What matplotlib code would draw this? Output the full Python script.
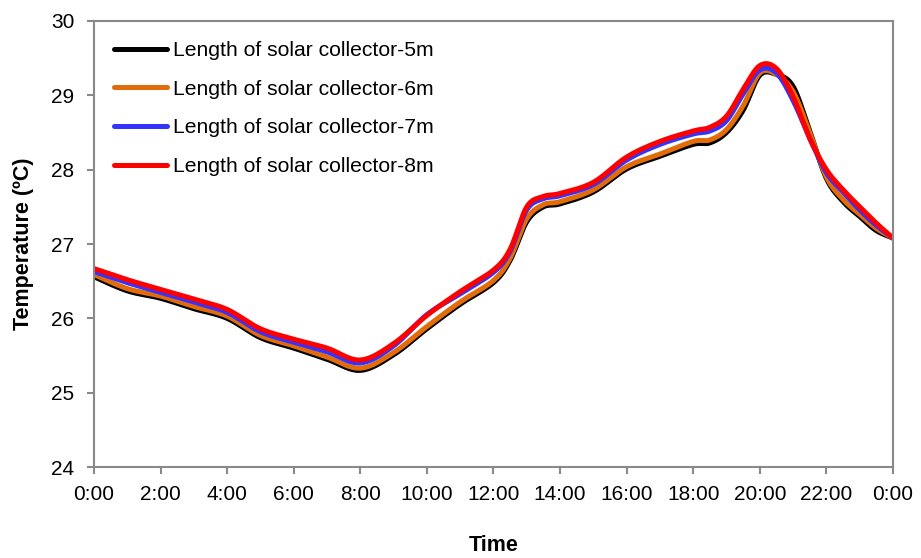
import numpy as np
import matplotlib
matplotlib.use('Agg')
import matplotlib.pyplot as plt

# Time of day (h)
hours = [0, 1, 2, 3, 4, 5, 6, 7, 8, 9, 10, 11, 12, 12.5, 13, 13.5, 14, 15, 16,
         17, 18, 18.5, 19, 19.5, 20, 20.5, 21, 21.5, 22, 22.5, 23, 23.5, 24]

# Temperature (C) for each collector length
t_5m = [26.56, 26.37, 26.27, 26.13, 26.00, 25.74, 25.60, 25.45, 25.30, 25.51,
        25.86, 26.19, 26.48, 26.78, 27.30, 27.50, 27.54, 27.70, 28.01, 28.18,
        28.34, 28.36, 28.50, 28.80, 29.27, 29.28, 29.12, 28.52, 27.88, 27.57,
        27.37, 27.18, 27.08]
t_6m = [26.59, 26.40, 26.30, 26.16, 26.03, 25.77, 25.63, 25.48, 25.33, 25.54,
        25.89, 26.22, 26.51, 26.81, 27.34, 27.53, 27.57, 27.73, 28.04, 28.21,
        28.38, 28.40, 28.54, 28.86, 29.30, 29.28, 29.05, 28.50, 27.90, 27.60,
        27.40, 27.21, 27.08]
t_7m = [26.63, 26.48, 26.35, 26.22, 26.08, 25.82, 25.68, 25.55, 25.40, 25.63,
        26.05, 26.33, 26.62, 26.90, 27.46, 27.61, 27.65, 27.80, 28.13, 28.34,
        28.48, 28.52, 28.66, 29.02, 29.34, 29.30, 28.93, 28.42, 27.96, 27.70,
        27.46, 27.25, 27.08]
t_8m = [26.67, 26.52, 26.39, 26.26, 26.12, 25.86, 25.72, 25.60, 25.44, 25.66,
        26.04, 26.36, 26.65, 26.93, 27.50, 27.64, 27.68, 27.83, 28.17, 28.38,
        28.52, 28.57, 28.72, 29.08, 29.40, 29.36, 28.98, 28.42, 28.00, 27.73,
        27.50, 27.28, 27.08]

labels = ['Length of solar collector-5m', 'Length of solar collector-6m',
          'Length of solar collector-7m', 'Length of solar collector-8m']
colors = ['#000000', '#E36C0A', '#3333FF', '#FF0000']
xticklabels = ['0:00', '2:00', '4:00', '6:00', '8:00', '10:00', '12:00',
               '14:00', '16:00', '18:00', '20:00', '22:00', '0:00']


def smooth(x, y, n=20):
    # Catmull-Rom smoothing, like a spreadsheet "smoothed line"
    x = np.asarray(x, float)
    y = np.asarray(y, float)
    px = np.concatenate([[x[0]], x, [x[-1]]])
    py = np.concatenate([[y[0]], y, [y[-1]]])
    xs, ys = [], []
    t = np.linspace(0, 1, n, endpoint=False)
    for i in range(1, len(px) - 2):
        p0, p1, p2, p3 = px[i-1], px[i], px[i+1], px[i+2]
        q0, q1, q2, q3 = py[i-1], py[i], py[i+1], py[i+2]
        # bezier control points
        c1x, c1y = p1 + (p2 - p0) / 6, q1 + (q2 - q0) / 6
        c2x, c2y = p2 - (p3 - p1) / 6, q2 - (q3 - q1) / 6
        b0 = (1 - t)**3
        b1 = 3 * (1 - t)**2 * t
        b2 = 3 * (1 - t) * t**2
        b3 = t**3
        xs.append(b0*p1 + b1*c1x + b2*c2x + b3*p2)
        ys.append(b0*q1 + b1*c1y + b2*c2y + b3*q2)
    xs.append([x[-1]])
    ys.append([y[-1]])
    return np.concatenate(xs), np.concatenate(ys)


plt.rcParams['font.family'] = ['Liberation Sans', 'DejaVu Sans']

fig = plt.figure(figsize=(9.21, 5.58), dpi=100)
ax = fig.add_axes([0.102, 0.163, 0.8676, 0.7994])

for series, lab, col in zip([t_5m, t_6m, t_7m, t_8m], labels, colors):
    sx, sy = smooth(hours, series)
    ax.plot(sx, sy, color=col, lw=3.6, label=lab,
            solid_capstyle='round', solid_joinstyle='round')

ax.set_xlim(0, 24)
ax.set_ylim(24, 30)
ax.set_xticks(np.arange(0, 25, 2))
ax.set_xticklabels(xticklabels)
ax.set_yticks(np.arange(24, 31, 1))

for s in ax.spines.values():
    s.set_color('#898989')
    s.set_linewidth(1.5)
ax.tick_params(axis='both', color='#898989', width=1.5, length=5,
               labelsize=15, direction='out')
ax.tick_params(axis='y', pad=9)
ax.tick_params(axis='x', pad=8)

ax.set_xlabel('Time', fontsize=15.5, fontweight='bold', labelpad=22)
ax.set_ylabel('Temperature (ºC)', fontsize=15.5, fontweight='bold', labelpad=12)

ax.legend(loc='upper left', frameon=False, fontsize=15.2, handlelength=2.5,
          handletextpad=0.3, labelspacing=0.93, borderaxespad=0.55)

fig.savefig('out.png', dpi=100)
